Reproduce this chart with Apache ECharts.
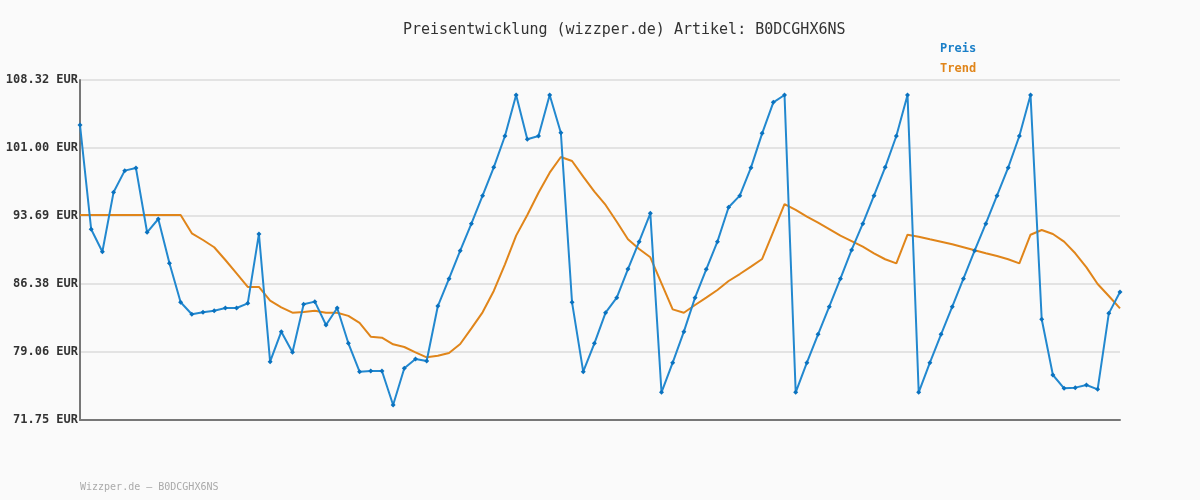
<!DOCTYPE html>
<html>
<head>
<meta charset="utf-8">
<script src="https://cdn.jsdelivr.net/npm/echarts@6/dist/echarts.min.js"></script>
<style>html,body{margin:0;padding:0;background:#fafafa;}#c{width:1200px;height:500px;}</style>
</head>
<body>
<div id="c"></div>
<script>
const categories = Array.from({length: 94}, (_, i) => String(i + 1));
const preis = [
  103.48, 92.26, 89.85, 96.24, 98.57, 98.86, 91.94, 93.37, 88.60, 84.41,
  83.12, 83.33, 83.51, 83.80, 83.80, 84.30, 91.76, 78.02, 81.25, 79.03,
  84.19, 84.48, 81.97, 83.80, 80.00, 76.95, 77.02, 77.02, 73.36, 77.31,
  78.31, 78.10, 84.01, 86.95, 89.96, 92.87, 95.88, 98.93, 102.30, 106.71,
  101.94, 102.30, 106.71, 102.65, 84.41, 76.95, 80.00, 83.29, 84.91, 87.99,
  90.93, 93.98, 74.73, 77.92, 81.25, 84.91, 87.96, 90.93, 94.63, 95.88,
  98.89, 102.58, 105.92, 106.71, 74.73, 77.92, 80.96, 83.94, 86.95, 90.04,
  92.87, 95.88, 98.93, 102.30, 106.71, 74.73, 77.92, 80.96, 83.94, 86.95,
  89.96, 92.87, 95.88, 98.89, 102.30, 106.71, 82.58, 76.59, 75.16, 75.23,
  75.51, 75.05, 83.22, 85.52
];
const trend = [
  93.80, 93.80, 93.80, 93.80, 93.80, 93.80, 93.80, 93.80, 93.80, 93.80,
  91.83, 91.11, 90.33, 88.96, 87.53, 86.06, 86.06, 84.58, 83.87, 83.29,
  83.37, 83.51, 83.29, 83.29, 82.95, 82.20, 80.71, 80.60, 79.89, 79.60,
  79.03, 78.49, 78.67, 78.96, 79.92, 81.61, 83.33, 85.63, 88.50, 91.58,
  93.80, 96.20, 98.35, 100.04, 99.61, 97.92, 96.31, 94.88, 93.08, 91.19,
  90.14, 89.25, 86.45, 83.65, 83.29, 84.12, 84.91, 85.73, 86.70, 87.45,
  88.24, 89.07, 92.01, 94.98, 94.34, 93.62, 92.97, 92.29, 91.58, 91.00,
  90.39, 89.68, 89.04, 88.60, 91.68, 91.47, 91.19, 90.93, 90.65, 90.33,
  90.00, 89.68, 89.39, 89.04, 88.60, 91.68, 92.19, 91.76, 90.93, 89.68,
  88.17, 86.38, 85.09, 83.76
];
const yTicks = [71.75, 79.06, 86.38, 93.69, 101.00, 108.32];

const mono = '"DejaVu Sans Mono", monospace';
const chart = echarts.init(document.getElementById('c'), null, {renderer: 'canvas'});
chart.setOption({
  backgroundColor: '#fafafa',
  animation: false,
  title: [
    {text: 'Preisentwicklung (wizzper.de) Artikel: B0DCGHX6NS', left: 398, top: 18,
     textStyle: {fontFamily: mono, fontSize: 15, fontWeight: 'normal', color: '#333'}},
    {text: 'Wizzper.de – B0DCGHX6NS', left: 75, top: 477,
     textStyle: {fontFamily: mono, fontSize: 10, fontWeight: 'normal', color: '#aaa'}}
  ],
  legend: {
    orient: 'vertical', left: 930, top: 38, itemGap: 8, icon: 'none', itemWidth: 0, itemHeight: 12,
    selectedMode: false,
    textStyle: {fontFamily: mono, fontSize: 12, fontWeight: 'bold'},
    data: [
      {name: 'Preis', textStyle: {color: '#1a7fc8'}},
      {name: 'Trend', textStyle: {color: '#e0851a'}}
    ]
  },
  grid: {left: 80, right: 80, top: 80, bottom: 80, containLabel: false},
  xAxis: {
    type: 'category', data: categories, boundaryGap: false,
    axisLine: {lineStyle: {color: '#777', width: 2}},
    axisTick: {show: false}, axisLabel: {show: false}, splitLine: {show: false}
  },
  yAxis: {
    type: 'value', min: yTicks[0], max: yTicks[yTicks.length - 1],
    axisLine: {show: true, lineStyle: {color: '#777', width: 2}},
    axisTick: {show: false, customValues: yTicks},
    axisLabel: {customValues: yTicks, margin: 2, fontFamily: mono, fontSize: 12, fontWeight: 'bold', color: '#333',
      formatter: v => v.toFixed(2) + ' EUR'},
    splitLine: {show: true, lineStyle: {color: '#e3e3e3', width: 2}}
  },
  series: [
    {name: 'Preis', type: 'line', data: preis, color: '#1a7fc8', z: 3,
     lineStyle: {width: 2, color: '#2288cf'}, symbol: 'diamond', symbolSize: 5, showSymbol: true,
     itemStyle: {color: '#0a72bf'}},
    {name: 'Trend', type: 'line', data: trend, color: '#e0851a', z: 2,
     lineStyle: {width: 2, color: '#e0851a'}, symbol: 'none'}
  ]
});
</script>
</body>
</html>
